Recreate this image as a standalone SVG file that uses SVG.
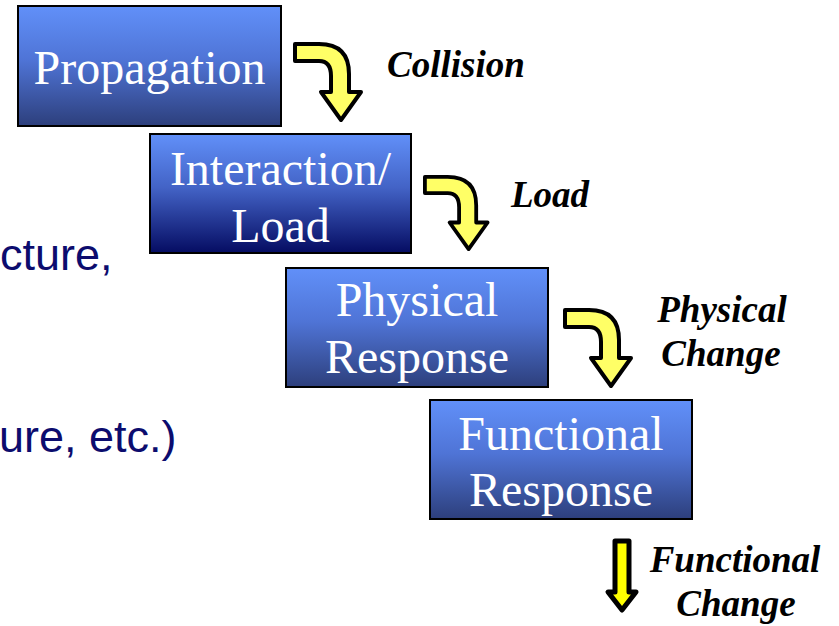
<svg xmlns="http://www.w3.org/2000/svg" width="839" height="626" viewBox="0 0 839 626">
<defs>
<linearGradient id="g1" x1="0" y1="0" x2="0" y2="1"><stop offset="0" stop-color="#6190f9"/><stop offset="0.45" stop-color="#4f74d6"/><stop offset="1" stop-color="#2d3f7c"/></linearGradient>
<linearGradient id="g2" x1="0" y1="0" x2="0" y2="1"><stop offset="0" stop-color="#6190f9"/><stop offset="0.45" stop-color="#4363c6"/><stop offset="1" stop-color="#050c62"/></linearGradient>
<path id="carrow" d="M2,2 H26 Q56,2 56,32 V50 H68 L48,78 L28,50 H38 V34 Q38,19 26,19 H2 Z"/>
</defs>
<style>
.box{stroke:#000;stroke-width:2}
.bt{font-family:"Liberation Serif","Times New Roman",serif;font-size:48px;fill:#fff;text-anchor:middle}
.lbl{font-family:"Liberation Serif","Times New Roman",serif;font-size:37px;font-weight:bold;font-style:italic;fill:#000}
.side{font-family:"Liberation Sans",Arial,sans-serif;font-size:45px;fill:#0c0c6e}
.ca{fill:#ffff66;stroke:#000;stroke-width:4;stroke-linejoin:round}
</style>
<rect width="839" height="626" fill="#fff"/>
<text class="side" x="0" y="270">cture,</text>
<text class="side" x="-1" y="452">ure, etc.)</text>
<g id="node-propagation">
<rect class="box" x="18" y="6" width="263" height="120" fill="url(#g1)"/>
<text class="bt" x="149.5" y="84">Propagation</text>
</g>
<g id="node-interaction">
<rect class="box" x="150" y="134" width="261" height="119" fill="url(#g2)"/>
<text class="bt" x="280.5" y="185">Interaction/</text>
<text class="bt" x="280.5" y="242">Load</text>
</g>
<g id="node-physical">
<rect class="box" x="286" y="268" width="262" height="119" fill="url(#g1)"/>
<text class="bt" x="417" y="316">Physical</text>
<text class="bt" x="417" y="373">Response</text>
</g>
<g id="node-functional">
<rect class="box" x="430" y="400" width="262" height="119" fill="url(#g1)"/>
<text class="bt" x="561" y="450">Functional</text>
<text class="bt" x="561" y="506">Response</text>
</g>
<g id="connectors">
<use href="#carrow" class="ca" transform="translate(293,42)"/>
<use href="#carrow" class="ca" transform="translate(423,175) scale(0.95)"/>
<use href="#carrow" class="ca" transform="translate(563,308)"/>
<path d="M615,541 H629 V592 H636 L622,610 L608,592 H615 Z" fill="#ffff00" stroke="#000" stroke-width="5" stroke-linejoin="round"/>
<text class="lbl" x="387" y="77">Collision</text>
<text class="lbl" x="511" y="207">Load</text>
<text class="lbl" x="722" y="322" text-anchor="middle">Physical</text>
<text class="lbl" x="721" y="366" text-anchor="middle">Change</text>
<text class="lbl" x="735" y="572" text-anchor="middle">Functional</text>
<text class="lbl" x="736" y="616" text-anchor="middle">Change</text>
</g>
</svg>
